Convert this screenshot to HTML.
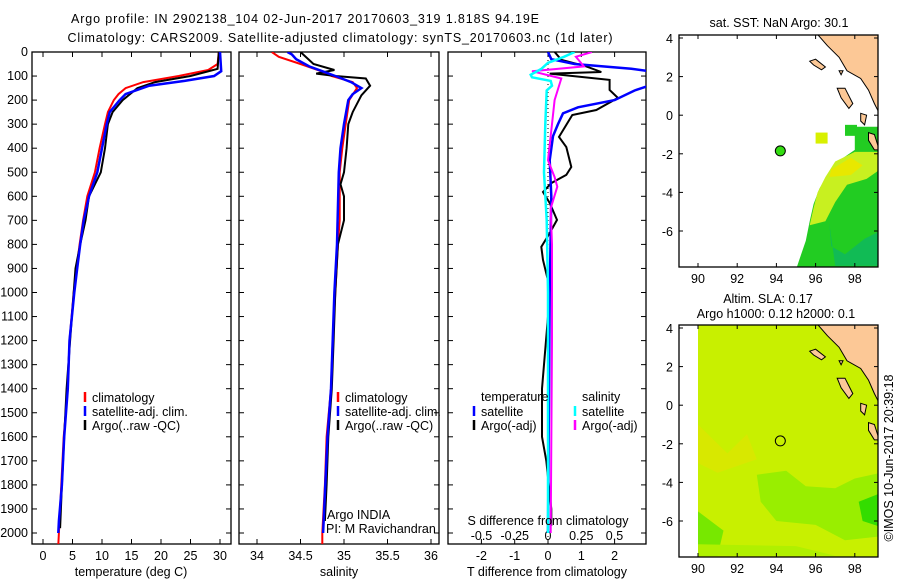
<!DOCTYPE html>
<html><head><meta charset="utf-8"><style>
body{margin:0;background:#fff;}
svg{display:block;font-family:"Liberation Sans",sans-serif;}
text{font-size:12.5px;fill:#000;}
</style></head><body>
<svg id="fig" width="900" height="580" viewBox="0 0 900 580">
<text x="305" y="23" text-anchor="middle" textLength="468">Argo profile: IN 2902138_104 02-Jun-2017 20170603_319 1.818S 94.19E</text>
<text x="340" y="42" text-anchor="middle" textLength="545">Climatology: CARS2009. Satellite-adjusted climatology: synTS_20170603.nc (1d later)</text>
<g id="g"></g>
</svg>
<script>
// ---- data ----
const tClimDepth=[0,50,75,100,125,150,175,200,250,300,400,500,600,700,800,900,1000,1200,1400,1600,1800,2000,2050];
const tClimVal=[29.8,29.6,28,23,17,14,12.8,12,11,10.5,9.6,8.8,7.5,6.8,6.2,5.7,5.2,4.5,4.2,3.5,3.1,2.7,2.6];
const tArgoDepth=[0,70,100,125,150,200,250,300,400,500,550,600,700,800,900,1000,1200,1400,1600,1800,1980];
const tArgoVal=[29.8,29.6,25,19,16,13.5,11.8,11,10.5,9.8,8.8,7.8,7.2,6.3,5.5,5.2,4.6,4.0,3.6,3.2,2.9];
const tSatDepth=[0,80,100,120,140,175,200,250,300,400,500,600,700,800,900,1000,1200,1400,1600,1800,1950,2000];
const tSatVal=[30,30.2,29,24,18,14,13,11.3,10.8,10,9.2,7.8,6.9,6.3,5.8,5.3,4.5,4.2,3.6,3.2,2.7,2.6];
const sClimDepth=[0,20,50,75,100,125,150,200,300,400,500,700,800,1000,1200,1400,1600,1800,2000,2050];
const sClimVal=[34.17,34.25,34.5,34.7,34.86,35.1,35.15,35.06,35.02,34.98,34.95,34.95,34.93,34.9,34.87,34.85,34.8,34.78,34.75,34.75];
const sArgoDepth=[0,50,75,90,100,110,140,180,250,300,400,500,550,600,700,800,1000,1200,1400,1600,1800,1950];
const sArgoVal=[34.5,34.65,34.89,34.68,34.9,35.25,35.3,35.2,35.1,35.05,35.03,35.0,34.96,35.0,35.0,34.93,34.9,34.88,34.86,34.82,34.8,34.78];
const sSatDepth=[0,10,30,60,80,100,125,150,175,200,300,400,500,800,1000,1400,1600,2000];
const sSatVal=[34.35,34.4,34.45,34.6,34.75,34.9,35.08,35.2,35.1,35.05,35.0,34.96,34.94,34.92,34.89,34.85,34.81,34.76];
const dTSatDepth=[0,30,50,70,88,100,120,137,160,200,230,255,300,350,450,600,1000,2000];
const dTSatVal=[0,0.1,0.8,2.5,3.5,5,4,3.1,2.6,2.0,0.9,0.45,0.3,0.15,0.05,0.1,0.05,0];
const dTArgoDepth=[0,33,60,83,90,116,158,191,241,262,353,395,478,511,545,582,628,698,753,810,865,950,1100,1400,1600,1700,1900,1970];
const dTArgoVal=[0.2,0.4,1.15,1.6,0.05,1.85,1.85,2.1,1.45,0.73,0.33,0.55,0.7,0.55,0.1,-0.15,0.05,0.27,0.05,-0.2,-0.15,0,0,-0.18,-0.18,-0.05,0.1,0.1];
const dSSatDepth=[0,20,45,70,95,105,120,140,160,300,500,700,1000,2000];
const dSSatVal=[0.2,0.12,0,-0.05,-0.13,-0.12,0.02,0.03,-0.01,-0.02,-0.03,-0.01,0,0];
const dSArgoDepth=[0,20,60,80,110,200,300,450,520,560,650,800,1200,2000];
const dSArgoVal=[0.33,0.21,0.27,-0.12,0.1,0.05,0.03,0,0.05,0.07,0.02,0.03,0.03,0.02];
const depthTicks=[0,100,200,300,400,500,600,700,800,900,1000,1100,1200,1300,1400,1500,1600,1700,1800,1900,2000];
const tTicks=[0,5,10,15,20,25,30];
const sTicks=[34,34.5,35,35.5,36];
const dTTicks=[-2,-1,0,1,2];
const dSTicks=[-0.5,-0.25,0,0.25,0.5];
const lonTicks=[90,92,94,96,98];
const latTicks=[4,2,0,-2,-4,-6];

// ---- helpers ----
const NS='http://www.w3.org/2000/svg';
const G=document.getElementById('g');
function mk(tag,attrs,parent){const e=document.createElementNS(NS,tag);for(const k in attrs)e.setAttribute(k,attrs[k]);(parent||G).appendChild(e);return e;}
function txt(x,y,s,anchor,parent){const e=mk('text',{x:x,y:y,'text-anchor':anchor||'start'},parent);e.textContent=s;return e;}
const Y0=52,Y1=544;
const yD=d=>Y0+d*0.2405;
const xT=v=>43+v*5.9;
const xS=v=>257+(v-34)*87;
const xDT=v=>548+v*33.3;
const xDS=v=>548+v*133;

function panel(x0,x1,name,clipId){
  const r=mk('rect',{x:x0,y:Y0,width:x1-x0,height:Y1-Y0,fill:'none',stroke:'#000','stroke-width':1.3});
  
  
  const cp=mk('clipPath',{id:clipId});mk('rect',{x:x0,y:Y0,width:x1-x0,height:Y1-Y0},cp);
  for(const d of depthTicks){mk('line',{x1:x0,x2:x0+5,y1:yD(d),y2:yD(d),stroke:'#000'});mk('line',{x1:x1-5,x2:x1,y1:yD(d),y2:yD(d),stroke:'#000'});}
}
function xticks(ticks,fx,x0,x1,labels){
  for(const t of ticks){const x=fx(t);mk('line',{x1:x,x2:x,y1:Y0,y2:Y0+5,stroke:'#000'});mk('line',{x1:x,x2:x,y1:Y1-5,y2:Y1,stroke:'#000'});
    if(labels){const e=txt(x,560,String(t),'middle');}}
}
function line(dep,val,fx,color,name,clip,w){
  const pts=dep.map((d,i)=>fx(val[i]).toFixed(1)+','+yD(d).toFixed(1)).join(' ');
  const p=mk('polyline',{points:pts,fill:'none',stroke:color,'stroke-width':w||2,'clip-path':'url(#'+clip+')'});
  
  
}
function legend(x,y,items){
  items.forEach((it,i)=>{mk('line',{x1:x,x2:x,y1:y+i*14-10,y2:y+i*14,stroke:it[0],'stroke-width':2.5});
    const e=txt(x+7,y+i*14,it[1]);});
}

// Panel 1: temperature
panel(32,231,'temperature-panel','c1');
for(const d of depthTicks){const e=txt(28,yD(d)+4,String(d),'end');}
xticks(tTicks,xT,32,231,true);
line(tClimDepth,tClimVal,xT,'#f00','temp-climatology-line','c1');
line(tArgoDepth,tArgoVal,xT,'#000','temp-argo-line','c1');
line(tSatDepth,tSatVal,xT,'#00f','temp-satellite-line','c1',2.5);
legend(85,402,[['#f00','climatology'],['#00f','satellite-adj. clim.'],['#000','Argo(..raw -QC)']]);
let e=txt(131,576,'temperature (deg C)','middle');

// Panel 2: salinity
panel(239,439,'salinity-panel','c2');
xticks(sTicks,xS,239,439,true);
line(sClimDepth,sClimVal,xS,'#f00','sal-climatology-line','c2');
line(sArgoDepth,sArgoVal,xS,'#000','sal-argo-line','c2');
line(sSatDepth,sSatVal,xS,'#00f','sal-satellite-line','c2',2.5);
legend(338,402,[['#f00','climatology'],['#00f','satellite-adj. clim.'],['#000','Argo(..raw -QC)']]);
e=txt(327,519,'Argo INDIA');
e=txt(326,533,'PI: M Ravichandran');
e=txt(339,576,'salinity','middle');

// Panel 3: differences
panel(448,646,'difference-panel','c3');
xticks(dTTicks,xDT,448,646,true);
mk('line',{x1:xDT(0),x2:xDT(0),y1:Y0,y2:Y1,stroke:'#000','stroke-dasharray':'1,3','stroke-width':1});
for(const t of dSTicks){e=txt(xDS(t),540,String(t),'middle');}
line(dTArgoDepth,dTArgoVal,xDT,'#000','t-diff-argo-line','c3');
line(dTSatDepth,dTSatVal,xDT,'#00f','t-diff-satellite-line','c3',2.5);
line(dSArgoDepth,dSArgoVal,xDS,'#f0f','s-diff-argo-line','c3');
line(dSSatDepth,dSSatVal,xDS,'#0ff','s-diff-satellite-line','c3',2.5);
e=txt(481,401,'temperature');
e=txt(582,401,'salinity');
legend(474,416,[['#00f','satellite'],['#000','Argo(-adj)']]);
legend(575,416,[['#0ff','satellite'],['#f0f','Argo(-adj)']]);
e=txt(548,525,'S difference from climatology','middle');
e=txt(547,576,'T difference from climatology','middle');

// ---- maps ----
const mx=lon=>698+(lon-90)*19.6;
function drawMap(top,name,kind){
  const my=lat=>top+3+(4-lat)*19.3;
  const L=679,R=878,B=top+232;
  const cp=mk('clipPath',{id:'m'+kind});mk('rect',{x:L,y:top,width:R-L,height:B-top},cp);
  const g=mk('g',{'clip-path':'url(#m'+kind+')'});
  
  
  const P=arr=>arr.map(p=>mx(p[0]).toFixed(1)+','+my(p[1]).toFixed(1)).join(' ');
  if(kind==='sst'){
    mk('polygon',{points:P([[99.3,-0.6],[98.0,-0.6],[98.0,-1.8],[97.0,-2.5],[96.5,-3.3],[96.2,-3.8],[95.9,-4.6],[95.7,-5.5],[95.5,-6.5],[95.2,-7.4],[95.0,-8],[99.3,-8]]),fill:'#22cc22'},g);
    mk('polygon',{points:P([[98.0,-1.9],[97.0,-2.4],[96.5,-3.2],[96.1,-4.0],[95.9,-4.8],[95.7,-5.7],[96.5,-5.5],[97.0,-4.5],[97.6,-3.6],[98.6,-3.3],[99.3,-2.8],[99.3,-1.9]]),fill:'#c8f020'},g);
    mk('polygon',{points:P([[97.8,-2.2],[96.8,-2.8],[96.7,-3.2],[97.8,-3.1],[98.4,-2.6]]),fill:'#e8e800'},g);
    mk('polygon',{points:P([[96.7,-5.6],[96.8,-6.8],[97.5,-7.2],[98.5,-6.4],[99.3,-6.0],[99.3,-7.8],[97,-7.8]]),fill:'#11bb55'},g);
    mk('rect',{x:mx(96),y:my(-0.9),width:12,height:11,fill:'#d8f000'},g);
    mk('rect',{x:mx(97.5),y:my(-0.5),width:12,height:11,fill:'#22cc22'},g);
  } else {
    mk('rect',{x:mx(90),y:top,width:R-mx(90),height:B-top,fill:'#c8f000'},g);
    mk('polygon',{points:P([[90,-1],[91.5,-2.5],[92.5,-1.5],[93,-2.8],[91,-3.5],[90,-3]]),fill:'#d8e800'},g);
    mk('polygon',{points:P([[93,-3.6],[94.5,-3.4],[95.5,-4.2],[97,-4.3],[98,-3.8],[99.3,-3.5],[99.3,-6.8],[97.5,-7],[96,-6.2],[94,-6],[93.2,-5]]),fill:'#99ee00'},g);
    mk('polygon',{points:P([[98.2,-5],[99.2,-4.6],[99.3,-6.3],[98.4,-6.0]]),fill:'#33dd00'},g);
    mk('polygon',{points:P([[90,-5.5],[91.3,-6.5],[91,-7.8],[90,-7.8]]),fill:'#77e800'},g);
    mk('polygon',{points:P([[90,-7.2],[95,-7.3],[97,-7.8],[90,-7.8]]),fill:'#b0f000'},g);
    mk('rect',{x:mx(98.5),y:top,width:R-mx(98.5),height:12,fill:'#22dd00'},g);
  }
  // land
  const land=mk('polygon',{points:P([[96.0,4.3],[96.6,3.6],[97.2,3.0],[97.6,2.3],[98.3,1.9],[98.7,1.3],[99.0,0.6],[99.2,0.2],[99.4,0.2],[99.4,4.3]]),fill:'#fcc896',stroke:'#000','stroke-width':1},g);
  
  
  const isl=[[[95.7,2.8],[96.0,2.9],[96.5,2.5],[96.3,2.35],[95.9,2.6]],[[97.1,1.4],[97.5,1.4],[97.9,0.6],[97.7,0.35],[97.3,0.9]],[[98.7,-0.9],[99.0,-1.0],[99.25,-1.8],[99.0,-1.8],[98.7,-1.3]],[[98.3,0.1],[98.6,0.0],[98.5,-0.5],[98.3,-0.3]],[[97.2,2.3],[97.4,2.3],[97.3,2.1]]];
  for(const s of isl){const q=mk('polygon',{points:P(s),fill:'#fcc896',stroke:'#000','stroke-width':1},g);}
  const mk2=mk('circle',{cx:mx(94.2),cy:my(-1.85),r:5,fill:kind==='sst'?'#33dd11':'none',stroke:'#000','stroke-width':1});
  
  
  const fr=mk('rect',{x:L,y:top,width:R-L,height:B-top,fill:'none',stroke:'#000','stroke-width':1.3});
  
  
  for(const t of lonTicks){const x=mx(t);mk('line',{x1:x,x2:x,y1:top,y2:top+4,stroke:'#000'});mk('line',{x1:x,x2:x,y1:B-4,y2:B,stroke:'#000'});
    const q=txt(x,B+16,String(t),'middle');}
  for(const t of latTicks){const y=my(t);mk('line',{x1:L,x2:L+4,y1:y,y2:y,stroke:'#000'});mk('line',{x1:R-4,x2:R,y1:y,y2:y,stroke:'#000'});
    const q=txt(673,y+5,String(t),'end');}
}
drawMap(35,'sst-map','sst');
e=txt(779,27,'sat. SST: NaN Argo: 30.1','middle');
drawMap(325,'sla-map','sla');
e=txt(768,303,'Altim. SLA: 0.17','middle');
e=txt(776,318,'Argo h1000: 0.12 h2000: 0.1','middle');
e=txt(0,0,'©IMOS 10-Jun-2017 20:39:18','middle');e.setAttribute('transform','translate(893,458) rotate(-90)');
</script>
</body></html>
